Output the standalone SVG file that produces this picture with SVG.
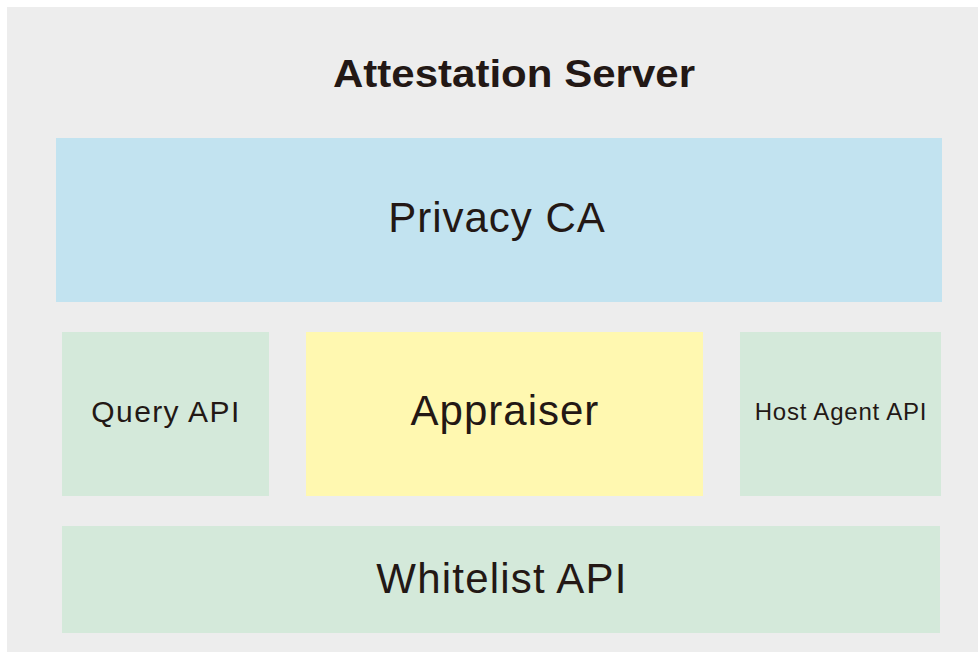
<svg xmlns="http://www.w3.org/2000/svg" width="978" height="655" viewBox="0 0 978 655">
<style>
.lbl{font-family:"Liberation Sans",Arial,sans-serif;fill:#231815;text-anchor:middle}
.title{font-family:"Liberation Sans",Arial,sans-serif;font-weight:bold;fill:#231815;text-anchor:middle}
.green{fill:#d4e9da}
</style>
<rect width="978" height="655" fill="#ffffff"/>
<g id="attestation-server">
<rect x="7" y="7" width="971" height="645" fill="#ededed"/>
<text class="title" x="514" y="87" font-size="38" textLength="362" lengthAdjust="spacingAndGlyphs">Attestation Server</text>
</g>
<g id="privacy-ca">
<rect x="56" y="138" width="886" height="164" fill="#c2e3f0"/>
<text class="lbl" x="497" y="232" font-size="42" letter-spacing="1">Privacy CA</text>
</g>
<g id="query-api">
<rect class="green" x="62" y="332" width="207" height="164"/>
<text class="lbl" x="166" y="422" font-size="30" letter-spacing="1.4">Query API</text>
</g>
<g id="appraiser">
<rect x="306" y="332" width="397" height="164" fill="#fff8b0"/>
<text class="lbl" x="505" y="425" font-size="42" letter-spacing="1">Appraiser</text>
</g>
<g id="host-agent-api">
<rect class="green" x="740" y="332" width="201" height="164"/>
<text class="lbl" x="841" y="420" font-size="24" letter-spacing="0.8">Host Agent API</text>
</g>
<g id="whitelist-api">
<rect class="green" x="62" y="526" width="878" height="107"/>
<text class="lbl" x="502" y="593" font-size="42" letter-spacing="1.2">Whitelist API</text>
</g>
<g id="connectors"></g>
</svg>
